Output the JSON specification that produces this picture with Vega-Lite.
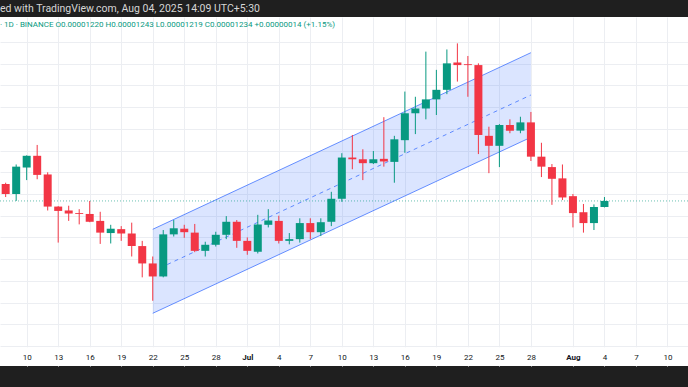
{
  "$schema": "https://vega.github.io/schema/vega-lite/v6.json",
  "width": 688,
  "height": 349,
  "autosize": {"type": "none"},
  "padding": {"top": 17, "bottom": 21, "left": 0, "right": 0},
  "background": "#1f1f1f",
  "view": {"fill": "#ffffff", "stroke": null},
  "title": {
    "text": "ed with TradingView.com, Aug 04, 2025 14:09 UTC+5:30",
    "subtitle": "· 1D · BINANCE O0.00001220 H0.00001243 L0.00001219 C0.00001234 +0.00000014 (+1.15%)",
    "anchor": "start",
    "frame": "group",
    "orient": "top",
    "offset": -12,
    "font": "Roboto",
    "fontSize": 10.5,
    "fontWeight": "normal",
    "color": "#d6d6d6",
    "subtitleFont": "Roboto",
    "subtitleFontSize": 8,
    "subtitleColor": "#089981",
    "subtitlePadding": 6.75
  },
  "datasets": {
    "candles": [
      {"date": "2025-06-08", "o": 0.00001273, "h": 0.00001276, "l": 0.00001243, "c": 0.00001250},
      {"date": "2025-06-09", "o": 0.00001250, "h": 0.00001318, "l": 0.00001234, "c": 0.00001313},
      {"date": "2025-06-10", "o": 0.00001311, "h": 0.00001339, "l": 0.00001282, "c": 0.00001338},
      {"date": "2025-06-11", "o": 0.00001338, "h": 0.00001363, "l": 0.00001284, "c": 0.00001294},
      {"date": "2025-06-12", "o": 0.00001295, "h": 0.00001300, "l": 0.00001212, "c": 0.00001221},
      {"date": "2025-06-13", "o": 0.00001221, "h": 0.00001222, "l": 0.00001138, "c": 0.00001211},
      {"date": "2025-06-14", "o": 0.00001212, "h": 0.00001223, "l": 0.00001188, "c": 0.00001205},
      {"date": "2025-06-15", "o": 0.00001206, "h": 0.00001215, "l": 0.00001180, "c": 0.00001204},
      {"date": "2025-06-16", "o": 0.00001204, "h": 0.00001234, "l": 0.00001185, "c": 0.00001186},
      {"date": "2025-06-17", "o": 0.00001188, "h": 0.00001209, "l": 0.00001135, "c": 0.00001161},
      {"date": "2025-06-18", "o": 0.00001160, "h": 0.00001179, "l": 0.00001136, "c": 0.00001170},
      {"date": "2025-06-19", "o": 0.00001169, "h": 0.00001176, "l": 0.00001142, "c": 0.00001159},
      {"date": "2025-06-20", "o": 0.00001159, "h": 0.00001184, "l": 0.00001106, "c": 0.00001130},
      {"date": "2025-06-21", "o": 0.00001130, "h": 0.00001142, "l": 0.00001058, "c": 0.00001090},
      {"date": "2025-06-22", "o": 0.00001090, "h": 0.00001106, "l": 0.00001004, "c": 0.00001060},
      {"date": "2025-06-23", "o": 0.00001060, "h": 0.00001167, "l": 0.00001058, "c": 0.00001157},
      {"date": "2025-06-24", "o": 0.00001157, "h": 0.00001190, "l": 0.00001152, "c": 0.00001171},
      {"date": "2025-06-25", "o": 0.00001170, "h": 0.00001179, "l": 0.00001149, "c": 0.00001162},
      {"date": "2025-06-26", "o": 0.00001161, "h": 0.00001181, "l": 0.00001116, "c": 0.00001119},
      {"date": "2025-06-27", "o": 0.00001119, "h": 0.00001140, "l": 0.00001106, "c": 0.00001133},
      {"date": "2025-06-28", "o": 0.00001133, "h": 0.00001163, "l": 0.00001129, "c": 0.00001156},
      {"date": "2025-06-29", "o": 0.00001156, "h": 0.00001199, "l": 0.00001146, "c": 0.00001186},
      {"date": "2025-06-30", "o": 0.00001186, "h": 0.00001190, "l": 0.00001126, "c": 0.00001142},
      {"date": "2025-07-01", "o": 0.00001142, "h": 0.00001150, "l": 0.00001110, "c": 0.00001119},
      {"date": "2025-07-02", "o": 0.00001117, "h": 0.00001202, "l": 0.00001113, "c": 0.00001180},
      {"date": "2025-07-03", "o": 0.00001179, "h": 0.00001215, "l": 0.00001173, "c": 0.00001189},
      {"date": "2025-07-04", "o": 0.00001188, "h": 0.00001200, "l": 0.00001136, "c": 0.00001142},
      {"date": "2025-07-05", "o": 0.00001142, "h": 0.00001160, "l": 0.00001134, "c": 0.00001146},
      {"date": "2025-07-06", "o": 0.00001146, "h": 0.00001194, "l": 0.00001138, "c": 0.00001183},
      {"date": "2025-07-07", "o": 0.00001183, "h": 0.00001194, "l": 0.00001146, "c": 0.00001162},
      {"date": "2025-07-08", "o": 0.00001162, "h": 0.00001194, "l": 0.00001153, "c": 0.00001185},
      {"date": "2025-07-09", "o": 0.00001186, "h": 0.00001255, "l": 0.00001176, "c": 0.00001239},
      {"date": "2025-07-10", "o": 0.00001239, "h": 0.00001344, "l": 0.00001232, "c": 0.00001334},
      {"date": "2025-07-11", "o": 0.00001334, "h": 0.00001386, "l": 0.00001307, "c": 0.00001330},
      {"date": "2025-07-12", "o": 0.00001330, "h": 0.00001353, "l": 0.00001282, "c": 0.00001321},
      {"date": "2025-07-13", "o": 0.00001321, "h": 0.00001349, "l": 0.00001319, "c": 0.00001330},
      {"date": "2025-07-14", "o": 0.00001331, "h": 0.00001427, "l": 0.00001313, "c": 0.00001325},
      {"date": "2025-07-15", "o": 0.00001324, "h": 0.00001384, "l": 0.00001276, "c": 0.00001376},
      {"date": "2025-07-16", "o": 0.00001374, "h": 0.00001486, "l": 0.00001345, "c": 0.00001436},
      {"date": "2025-07-17", "o": 0.00001436, "h": 0.00001474, "l": 0.00001388, "c": 0.00001447},
      {"date": "2025-07-18", "o": 0.00001447, "h": 0.00001578, "l": 0.00001422, "c": 0.00001468},
      {"date": "2025-07-19", "o": 0.00001468, "h": 0.00001536, "l": 0.00001432, "c": 0.00001490},
      {"date": "2025-07-20", "o": 0.00001490, "h": 0.00001583, "l": 0.00001480, "c": 0.00001551},
      {"date": "2025-07-21", "o": 0.00001553, "h": 0.00001597, "l": 0.00001509, "c": 0.00001547},
      {"date": "2025-07-22", "o": 0.00001549, "h": 0.00001568, "l": 0.00001474, "c": 0.00001547},
      {"date": "2025-07-23", "o": 0.00001547, "h": 0.00001551, "l": 0.00001342, "c": 0.00001386},
      {"date": "2025-07-24", "o": 0.00001384, "h": 0.00001405, "l": 0.00001298, "c": 0.00001361},
      {"date": "2025-07-25", "o": 0.00001361, "h": 0.00001411, "l": 0.00001312, "c": 0.00001409},
      {"date": "2025-07-26", "o": 0.00001409, "h": 0.00001422, "l": 0.00001390, "c": 0.00001396},
      {"date": "2025-07-27", "o": 0.00001396, "h": 0.00001428, "l": 0.00001390, "c": 0.00001415},
      {"date": "2025-07-28", "o": 0.00001415, "h": 0.00001439, "l": 0.00001326, "c": 0.00001336},
      {"date": "2025-07-29", "o": 0.00001336, "h": 0.00001368, "l": 0.00001289, "c": 0.00001313},
      {"date": "2025-07-30", "o": 0.00001312, "h": 0.00001319, "l": 0.00001225, "c": 0.00001285},
      {"date": "2025-07-31", "o": 0.00001286, "h": 0.00001318, "l": 0.00001236, "c": 0.00001242},
      {"date": "2025-08-01", "o": 0.00001245, "h": 0.00001250, "l": 0.00001173, "c": 0.00001206},
      {"date": "2025-08-02", "o": 0.00001208, "h": 0.00001227, "l": 0.00001161, "c": 0.00001183},
      {"date": "2025-08-03", "o": 0.00001183, "h": 0.00001226, "l": 0.00001167, "c": 0.00001220},
      {"date": "2025-08-04", "o": 0.00001220, "h": 0.00001243, "l": 0.00001219, "c": 0.00001234}
    ],
    "channel": [
      {"date": "2025-06-22", "lo": 0.000009751, "mid": 0.000010719, "hi": 0.000011687},
      {"date": "2025-07-28", "lo": 0.000013806, "mid": 0.000014781, "hi": 0.000015756}
    ],
    "last": [{"price": 0.00001234}]
  },
  "resolve": {"axis": {"x": "independent"}},
  "layer": [
    {
      "layer": [
        {
          "data": {"name": "channel"},
          "mark": {"type": "area", "color": "#2962ff", "opacity": 0.17},
          "encoding": {
            "x": {"field": "date", "type": "temporal", "scale": {"type": "utc", "domain": [1749335300000, 1754911600000]},
              "axis": {"orient": "bottom", "tickCount": 100, "values": [1749513600000, 1749772800000, 1750032000000, 1750291200000, 1750550400000, 1750809600000, 1751068800000, 1751328000000, 1751587200000, 1751846400000, 1752105600000, 1752364800000, 1752624000000, 1752883200000, 1753142400000, 1753401600000, 1753660800000, 1754006400000, 1754265600000, 1754524800000, 1754784000000],
                "grid": true, "gridColor": "#eceef2", "gridWidth": 1, "labels": false, "ticks": false, "domain": false, "title": null, "zindex": 0}},
            "y": {"field": "lo", "type": "quantitative", "scale": {"domain": [0.000008537, 0.000016578], "nice": false, "zero": false},
              "axis": {"orient": "right", "tickCount": 100, "values": [0.000009, 0.0000095, 0.00001, 0.0000105, 0.000011, 0.0000115, 0.000012, 0.0000125, 0.000013, 0.0000135, 0.000014, 0.0000145, 0.000015, 0.0000155, 0.000016],
                "grid": true, "gridColor": "#eceef2", "gridWidth": 1, "labels": false, "ticks": false, "domain": false, "title": null}},
            "y2": {"field": "hi"}
          }
        },
        {
          "data": {"name": "channel"},
          "mark": {"type": "line", "color": "#2962ff", "strokeWidth": 1, "opacity": 0.7},
          "encoding": {
            "x": {"field": "date", "type": "temporal", "scale": {"type": "utc", "domain": [1749335300000, 1754911600000]}},
            "y": {"field": "hi", "type": "quantitative", "scale": {"domain": [0.000008537, 0.000016578], "nice": false, "zero": false}}
          }
        },
        {
          "data": {"name": "channel"},
          "mark": {"type": "line", "color": "#2962ff", "strokeWidth": 1, "opacity": 0.7},
          "encoding": {
            "x": {"field": "date", "type": "temporal", "scale": {"type": "utc", "domain": [1749335300000, 1754911600000]}},
            "y": {"field": "lo", "type": "quantitative", "scale": {"domain": [0.000008537, 0.000016578], "nice": false, "zero": false}}
          }
        },
        {
          "data": {"name": "channel"},
          "mark": {"type": "line", "color": "#2962ff", "strokeWidth": 1, "opacity": 0.7, "strokeDash": [4, 4]},
          "encoding": {
            "x": {"field": "date", "type": "temporal", "scale": {"type": "utc", "domain": [1749335300000, 1754911600000]}},
            "y": {"field": "mid", "type": "quantitative", "scale": {"domain": [0.000008537, 0.000016578], "nice": false, "zero": false}}
          }
        },
        {
          "data": {"name": "last"},
          "mark": {"type": "rule", "color": "#089981", "strokeWidth": 1, "strokeDash": [1, 2], "opacity": 0.6},
          "encoding": {
            "y": {"field": "price", "type": "quantitative", "scale": {"domain": [0.000008537, 0.000016578], "nice": false, "zero": false}}
          }
        },
        {
          "data": {"name": "candles"},
          "mark": {"type": "rule", "strokeWidth": 1},
          "encoding": {
            "x": {"field": "date", "type": "temporal", "scale": {"type": "utc", "domain": [1749335300000, 1754911600000]}},
            "y": {"field": "l", "type": "quantitative", "scale": {"domain": [0.000008537, 0.000016578], "nice": false, "zero": false}},
            "y2": {"field": "h"},
            "color": {"condition": {"test": "datum.c >= datum.o", "value": "#089981"}, "value": "#f23645"}
          }
        },
        {
          "data": {"name": "candles"},
          "mark": {"type": "bar", "size": 8},
          "encoding": {
            "x": {"field": "date", "type": "temporal", "scale": {"type": "utc", "domain": [1749335300000, 1754911600000]}},
            "y": {"field": "o", "type": "quantitative", "scale": {"domain": [0.000008537, 0.000016578], "nice": false, "zero": false}},
            "y2": {"field": "c"},
            "color": {"condition": {"test": "datum.c >= datum.o", "value": "#089981"}, "value": "#f23645"}
          }
        }
      ]
    },
    {
      "data": {"values": [{}]},
      "mark": {"type": "rect", "color": "#ffffff"},
      "encoding": {
        "x": {"datum": 1749335300000, "type": "temporal", "scale": {"type": "utc", "domain": [1749335300000, 1754911600000]},
          "axis": {"orient": "bottom", "tickCount": 100, "values": [1749513600000, 1749772800000, 1750032000000, 1750291200000, 1750550400000, 1750809600000, 1751068800000, 1751328000000, 1751587200000, 1751846400000, 1752105600000, 1752364800000, 1752624000000, 1752883200000, 1753142400000, 1753401600000, 1753660800000, 1754006400000, 1754265600000, 1754524800000, 1754784000000],
            "labelExpr": "utcdate(datum.value) == 1 ? utcFormat(datum.value, '%b') : utcFormat(datum.value, '%-d')",
            "labelFontWeight": {"condition": {"test": "utcdate(datum.value) == 1", "value": "bold"}, "value": "normal"},
            "labelFont": "Roboto", "labelFontSize": 8, "labelColor": "#131722", "labelAlign": "center", "labelBaseline": "middle",
            "labelPadding": 0, "labelOverlap": false, "labelFlush": false, "labelBound": false,
            "grid": false, "ticks": false, "tickSize": 0, "domain": false, "title": null, "offset": -9, "zindex": 1}},
        "x2": {"datum": 1754911600000},
        "y": {"datum": 0.00000897, "type": "quantitative", "scale": {"domain": [0.000008537, 0.000016578], "nice": false, "zero": false},
          "axis": {"orient": "right", "tickCount": 100, "values": [0.000009, 0.0000095, 0.00001, 0.0000105, 0.000011, 0.0000115, 0.000012, 0.0000125, 0.000013, 0.0000135, 0.000014, 0.0000145, 0.000015, 0.0000155, 0.000016],
            "grid": true, "gridColor": "#eceef2", "gridWidth": 1, "labels": false, "ticks": false, "domain": false, "title": null}},
        "y2": {"datum": 0.000008537}
      }
    }
  ]
}
